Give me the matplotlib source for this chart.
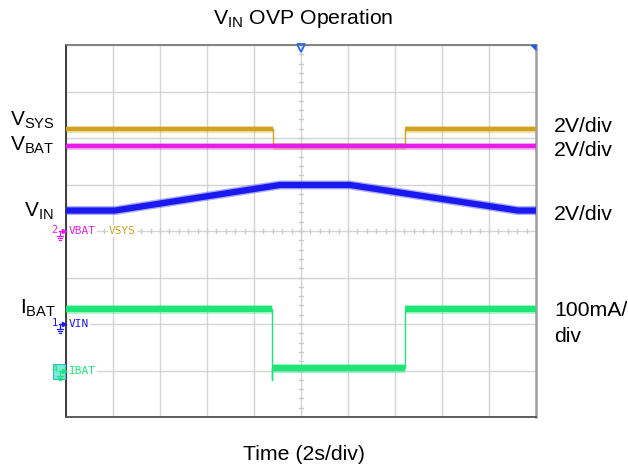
import numpy as np
import matplotlib
matplotlib.use("Agg")
import matplotlib.pyplot as plt

plt.rcParams['font.family'] = ['Liberation Sans', 'DejaVu Sans']
plt.rcParams['mathtext.fontset'] = 'custom'
plt.rcParams['mathtext.rm'] = 'Liberation Sans'
plt.rcParams['mathtext.it'] = 'Liberation Sans'

# ---- data (time in divisions, level in divisions from bottom) ----
vsys_t = [0, 4.40, 4.40, 7.22, 7.22, 10]
vsys_v = [6.19, 6.19, 5.83, 5.83, 6.19, 6.19]
vbat_t = [0, 10]
vbat_v = [5.83, 5.83]
vin_t = [0, 1.04, 4.55, 6.04, 9.62, 10]
vin_v = [4.44, 4.44, 4.99, 4.99, 4.44, 4.44]
ibat_t = [0, 4.39, 4.39, 4.39, 7.22, 7.22, 10]
ibat_v = [2.33, 2.33, 0.80, 1.06, 1.06, 2.33, 2.33]

gnd_levels = {'2': 4.0, '1': 2.0, '4': 1.0}
left_labels = [r'$\mathrm{V_{SYS}}$', r'$\mathrm{V_{BAT}}$', r'$\mathrm{V_{IN}}$', r'$\mathrm{I_{BAT}}$']
right_labels = ['2V/div', '2V/div', '2V/div', '100mA/', 'div']

c_vsys = '#d2a21e'
c_vbat = '#e41ee4'
c_vin = '#1a1af0'
c_ibat = '#1ee676'

W, H = 628, 470
fig = plt.figure(figsize=(W / 100, H / 100), dpi=100)
ax = fig.add_axes([66 / W, 1 - 417 / H, 470 / W, 372 / H])
ax.set_xlim(0, 10)
ax.set_ylim(0, 8)
ax.set_xticks(np.arange(0, 11))
ax.set_yticks(np.arange(0, 9))
ax.tick_params(length=0, labelbottom=False, labelleft=False)
ax.grid(True, color='#d4d4d4', lw=1)
ax.set_axisbelow(True)
for s, c, w in [('left', '#303030', 1.3), ('bottom', '#505050', 1.3),
                ('top', '#707070', 1.2), ('right', '#a0a0a0', 1.8)]:
    ax.spines[s].set_color(c)
    ax.spines[s].set_linewidth(w)

PX = 1 / 47.0   # x div per pixel
PY = 1 / 46.5   # y div per pixel

# center-line minor ticks
for yy in np.arange(0, 8.01, 0.2):
    ax.plot([5 - 2 * PX, 5 + 2 * PX], [yy, yy], color='#cccccc', lw=1, zorder=1)
for xx in np.arange(0, 10.01, 0.2):
    ax.plot([xx, xx], [4 - 2 * PY, 4 + 2 * PY], color='#cccccc', lw=1, zorder=1)


def split_steps(t, v):
    """Break line where time repeats (vertical edges) so thick parts are horizontal/sloped only."""
    tt, vv = [t[0]], [v[0]]
    for i in range(1, len(t)):
        if t[i] == t[i - 1]:
            tt.append(np.nan)
            vv.append(np.nan)
        tt.append(t[i])
        vv.append(v[i])
    return tt, vv


def trace(t, v, color, lw, z):
    ax.plot(t, v, color=color, lw=1, zorder=z)
    tt, vv = split_steps(t, v)
    ax.plot(tt, vv, color=color, lw=lw + 2, alpha=0.35, zorder=z, solid_capstyle='butt')
    ax.plot(tt, vv, color=color, lw=lw, zorder=z + 0.1, solid_capstyle='butt')


trace(vsys_t, vsys_v, c_vsys, 3.0, 3)
trace(vbat_t, vbat_v, c_vbat, 3.0, 4)
trace(vin_t, vin_v, c_vin, 4.5, 5)
trace(ibat_t, ibat_v, c_ibat, 4.5, 6)

# trigger markers
ax.plot([5], [8 - 3 * PY], marker='v', ms=6, mfc='none', mec='#2a6af0', mew=1.3,
        clip_on=False, zorder=10)
ax.plot([10], [8], marker=[(0, 0), (-1, 0), (0, -1)], ms=7, color='#1a5ae8',
        clip_on=False, zorder=10)


def gnd(ch, level, color, box=False):
    if box:
        ax.add_patch(plt.Rectangle((-13 * PX, level - 8 * PY), 12 * PX, 15 * PY,
                                   facecolor='#7fe8e0', edgecolor='#30c0c0', lw=0.8,
                                   clip_on=False, zorder=9))
    ax.text(-8 * PX, level + 1 * PY, ch, color=color, fontsize=7.5, ha='right', va='center',
            family='DejaVu Sans Mono', zorder=11)
    ax.plot([-7 * PX, -1.5 * PX], [level, level], color=color, lw=0.9, clip_on=False, zorder=11)
    ax.plot([-2 * PX], [level], marker='>', ms=3, color=color, clip_on=False, zorder=11)
    ax.plot([-6 * PX, -6 * PX], [level, level - 5 * PY], color=color, lw=0.9, clip_on=False, zorder=11)
    for k, hw in enumerate([3, 2, 1]):
        ax.plot([(-6 - hw) * PX, (-6 + hw) * PX], [level - (5 + 2 * k) * PY] * 2,
                color=color, lw=0.9, clip_on=False, zorder=11)


gnd('2', gnd_levels['2'], c_vbat)
gnd('1', gnd_levels['1'], c_vin)
gnd('4', gnd_levels['4'], c_ibat, box=True)

lab_kw = dict(fontsize=8, family='DejaVu Sans Mono', va='center', ha='left', zorder=12,
              bbox=dict(facecolor='white', edgecolor='none', pad=0.5))
ax.text(3 * PX, gnd_levels['2'], 'VBAT', color=c_vbat, **lab_kw)
ax.text(43 * PX, gnd_levels['2'], 'VSYS', color=c_vsys, **lab_kw)
ax.text(3 * PX, gnd_levels['1'], 'VIN', color=c_vin, **lab_kw)
ax.text(3 * PX, gnd_levels['4'], 'IBAT', color=c_ibat, **lab_kw)

# left labels (pixel positions)
for lab, (x, y) in zip(left_labels, [(10, 120), (10, 145), (24, 211), (20, 308)]):
    fig.text(x / W, 1 - y / H, lab, fontsize=15, ha='left', va='center')

# right labels
for lab, y in zip(right_labels, [127, 150, 214, 311, 337]):
    fig.text(554 / W, 1 - y / H, lab, fontsize=15.3, ha='left', va='center')

fig.text(303 / W, 1 - 18 / H, r'$\mathrm{V_{IN}}$ OVP Operation', fontsize=15.3,
         ha='center', va='center')
fig.text(304 / W, 1 - 455 / H, 'Time (2s/div)', fontsize=15.3, ha='center', va='center')

fig.savefig('out.png', dpi=100)
